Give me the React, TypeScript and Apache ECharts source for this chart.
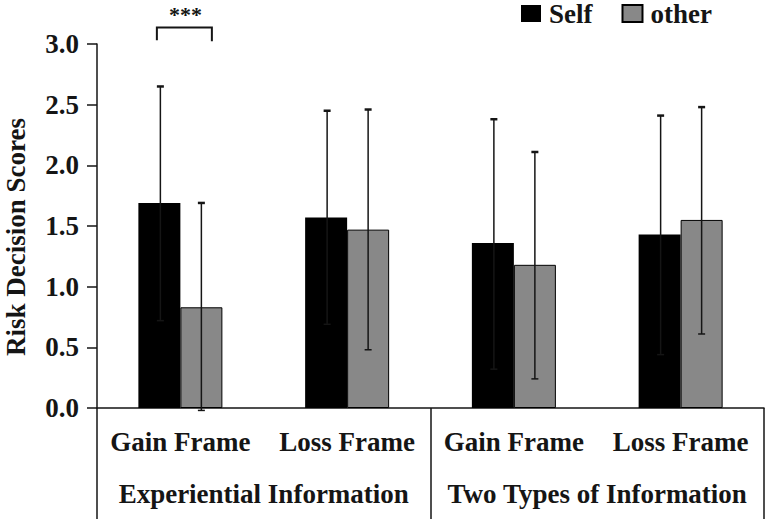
import React, { useEffect, useRef } from "react";
import * as echarts from "echarts";

const categories = ["Gain Frame", "Loss Frame", "Gain Frame", "Loss Frame"];
const groups = ["Experiential Information", "Two Types of Information"];
const yTicks = [0, 0.5, 1.0, 1.5, 2.0, 2.5, 3.0];

const selfMeans = [1.69, 1.57, 1.36, 1.43];
const selfLow = [0.72, 0.69, 0.32, 0.44];
const selfHigh = [2.65, 2.45, 2.38, 2.41];

const otherMeans = [0.83, 1.47, 1.18, 1.55];
const otherLow = [-0.02, 0.48, 0.24, 0.61];
const otherHigh = [1.69, 2.46, 2.11, 2.48];

// significance bracket: [category index, leg bottom, bracket top]
const sigBracket = [[0, 3.03, 3.135]];
const sigLabel = "***";

const FONT = "'Liberation Serif', 'Times New Roman', serif";
const INK = "#151515";

function errorSeries(name: string, low: number[], high: number[], offset: number) {
  return {
    type: "custom",
    name: name + "-err",
    xAxisIndex: 0,
    yAxisIndex: 0,
    clip: false,
    silent: true,
    z: 10,
    data: low.map((l, i) => [i, l, high[i]]),
    renderItem: (params: any, api: any) => {
      const idx = api.value(0);
      const x = api.coord([idx, 0])[0] + offset;
      const yl = api.coord([idx, api.value(1)])[1];
      const yh = api.coord([idx, api.value(2)])[1];
      const cap = 3.5;
      return {
        type: "group",
        children: [
          { type: "line", shape: { x1: x, y1: yl, x2: x, y2: yh }, style: { stroke: INK, lineWidth: 1.5 } },
          { type: "line", shape: { x1: x - cap, y1: yh, x2: x + cap, y2: yh }, style: { stroke: INK, lineWidth: 2.5 } },
          { type: "line", shape: { x1: x - cap, y1: yl, x2: x + cap, y2: yl }, style: { stroke: INK, lineWidth: 1.5 } },
        ],
      };
    },
  };
}

export default function App() {
  const ref = useRef<HTMLDivElement>(null);
  useEffect(() => {
    if (!ref.current) return;
    const chart = echarts.init(ref.current, null, { renderer: "svg" });
    chart.setOption({
      animation: false,
      backgroundColor: "#ffffff",
      textStyle: { fontFamily: FONT },
      grid: { left: 97, right: 3, top: 44, bottom: 111, containLabel: false, outerBoundsMode: "none" },
      legend: {
        data: ["Self", "other"],
        left: 521,
        top: 0,
        padding: 0,
        icon: "rect",
        itemWidth: 20,
        itemHeight: 17,
        itemGap: 29,
        textStyle: { fontFamily: FONT, fontWeight: "bold", fontSize: 27, lineHeight: 27, color: INK, padding: [0, 0, 0, 3] },
      },
      xAxis: [
        {
          type: "category",
          data: categories,
          position: "bottom",
          axisLine: { show: true, lineStyle: { color: INK, width: 1.5 } },
          axisTick: { show: false },
          axisLabel: { margin: 20, fontFamily: FONT, fontWeight: "bold", fontSize: 27, color: INK, interval: 0 },
        },
        {
          type: "category",
          data: groups,
          position: "bottom",
          axisLine: { show: false },
          axisTick: { show: true, length: 111, lineStyle: { color: INK, width: 1.5 } },
          axisLabel: { margin: 72, fontFamily: FONT, fontWeight: "bold", fontSize: 27, color: INK, interval: 0 },
        },
      ],
      yAxis: {
        type: "value",
        min: yTicks[0],
        max: yTicks[yTicks.length - 1],
        interval: 0.5,
        name: "Risk Decision Scores",
        nameLocation: "middle",
        nameRotate: 90,
        nameGap: 68,
        nameTextStyle: { fontFamily: FONT, fontWeight: "bold", fontSize: 27, color: INK, padding: [0, 22, 0, 0] },
        axisLine: { show: true, lineStyle: { color: INK, width: 1.5 } },
        axisTick: { show: true, length: 10, inside: false, lineStyle: { color: INK, width: 1.5 } },
        splitLine: { show: false },
        axisLabel: {
          margin: 18,
          fontFamily: FONT,
          fontWeight: "bold",
          fontSize: 27,
          color: INK,
          formatter: (v: number) => v.toFixed(1),
        },
      },
      series: [
        {
          type: "bar",
          name: "Self",
          data: selfMeans,
          barWidth: 42,
          barGap: "0%",
          itemStyle: { color: "#000000" },
        },
        {
          type: "bar",
          name: "other",
          data: otherMeans,
          barWidth: 42,
          barGap: "0%",
          itemStyle: { color: "#888888", borderColor: "#000000", borderWidth: 1 },
        },
        errorSeries("Self", selfLow, selfHigh, -20),
        errorSeries("other", otherLow, otherHigh, 21),
        {
          type: "custom",
          name: "sig",
          clip: false,
          silent: true,
          data: sigBracket,
          renderItem: (params: any, api: any) => {
            const idx = api.value(0);
            const cx = api.coord([idx, 0])[0];
            const yl = api.coord([idx, api.value(1)])[1];
            const yh = api.coord([idx, api.value(2)])[1];
            const x1 = cx - 23.5;
            const x2 = cx + 31.5;
            return {
              type: "group",
              children: [
                {
                  type: "polyline",
                  shape: { points: [[x1, yl], [x1, yh], [x2, yh], [x2, yl + 1]] },
                  style: { stroke: INK, lineWidth: 2, fill: null },
                },
                {
                  type: "text",
                  x: (x1 + x2) / 2 + 1,
                  y: yh - 2,
                  style: {
                    text: sigLabel,
                    fontFamily: FONT,
                    fontWeight: "bold",
                    fontSize: 22,
                    fill: INK,
                    align: "center",
                    verticalAlign: "bottom",
                  },
                },
              ],
            };
          },
        },
      ],
    });
    return () => chart.dispose();
  }, []);
  return <div ref={ref} style={{ width: 767, height: 519, position: "absolute", left: 0, top: 0 }} />;
}
